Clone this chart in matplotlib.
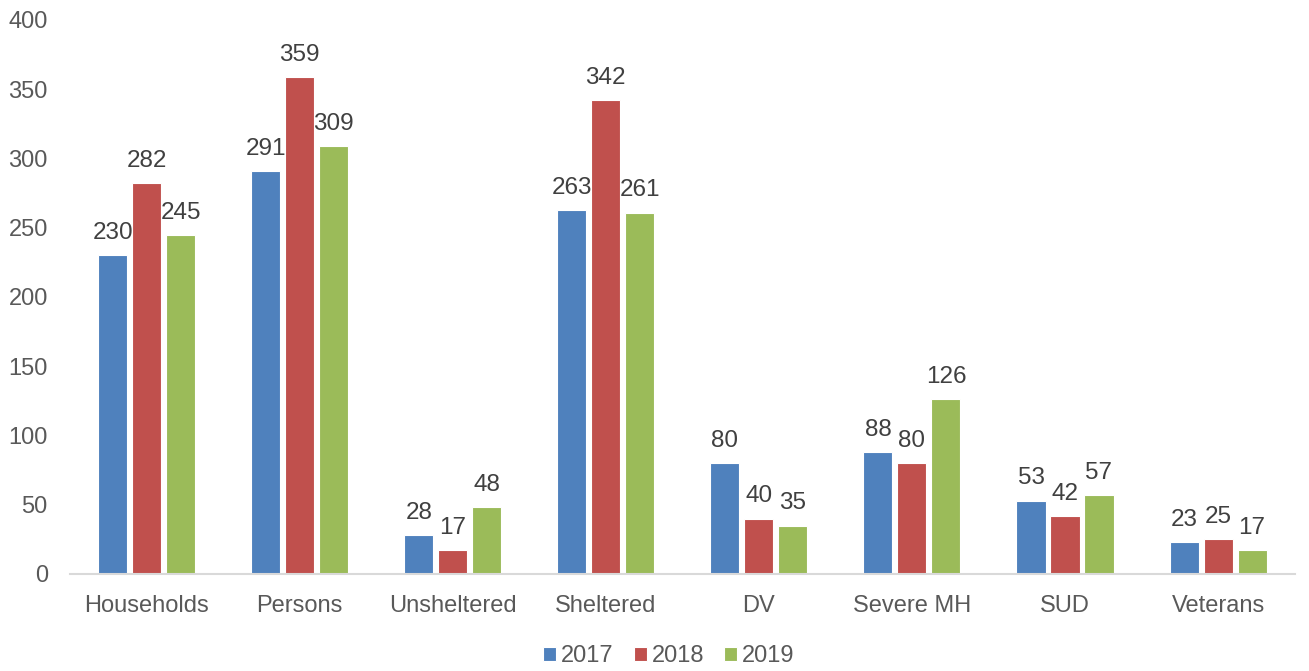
import matplotlib.pyplot as plt
import numpy as np

plt.rcParams['font.family'] = ['Liberation Sans', 'DejaVu Sans']

# Source data
categories = ["Households", "Persons", "Unsheltered", "Sheltered", "DV", "Severe MH", "SUD", "Veterans"]
years = ["2017", "2018", "2019"]
vals_2017 = [230, 291, 28, 263, 80, 88, 53, 23]
vals_2018 = [282, 359, 17, 342, 40, 80, 42, 25]
vals_2019 = [245, 309, 48, 261, 35, 126, 57, 17]
colors = ["#4F81BD", "#C0504D", "#9BBB59"]

fig = plt.figure(figsize=(13.09, 6.71), dpi=100)
ax = fig.add_axes([0.0535, 0.1446, 0.9355, 0.8256])

x = np.arange(len(categories))
width = 0.19
step = 0.222
for i, (vals, col, yr) in enumerate(zip([vals_2017, vals_2018, vals_2019], colors, years)):
    bars = ax.bar(x + (i - 1) * step, vals, width, color=col, label=yr,
                  edgecolor='white', linewidth=0.8, zorder=2)
    for b, v in zip(bars, vals):
        ax.text(b.get_x() + b.get_width() / 2, v + 8, str(v), ha='center', va='bottom',
                fontsize=17.5, color='#404040')

ax.set_xlim(-0.5, len(categories) - 0.5)
ax.set_ylim(0, 400)
ax.set_yticks(range(0, 401, 50))
ax.set_xticks(x)
ax.set_xticklabels(categories)
ax.tick_params(axis='both', length=0, labelsize=17, colors='#595959')
ax.tick_params(axis='x', pad=15)
ax.tick_params(axis='y', pad=16)
for s in ['top', 'right', 'left']:
    ax.spines[s].set_visible(False)
ax.spines['bottom'].set_color('#D9D9D9')
ax.spines['bottom'].set_linewidth(1.5)

leg = ax.legend(loc='upper center', bbox_to_anchor=(0.489, -0.09), ncol=3, frameon=False,
                fontsize=17, handlelength=0.55, handleheight=0.55, handletextpad=0.2,
                columnspacing=0.85, labelcolor='#595959')

fig.savefig('out.png', dpi=100)
